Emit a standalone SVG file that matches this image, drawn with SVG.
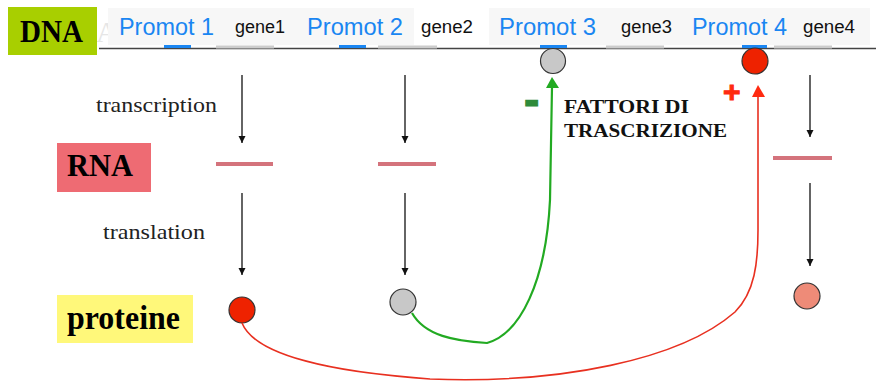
<svg xmlns="http://www.w3.org/2000/svg" width="876" height="381" viewBox="0 0 876 381">
  <style>
    .lbl { font-family: "Liberation Serif", "Times New Roman", serif; font-weight: bold; fill: #000; }
    .promot { font-family: "Liberation Sans", Arial, sans-serif; font-size: 23px; fill: #1a86f2; }
    .gene { font-family: "Liberation Sans", Arial, sans-serif; font-size: 18px; fill: #111; }
    .step { font-family: "Liberation Serif", "Times New Roman", serif; font-size: 22px; fill: #222; }
    .factor { font-family: "Liberation Serif", "Times New Roman", serif; font-weight: bold; font-size: 18px; fill: #111; }
    .pbar { fill: #1a86f2; }
    .gbar { fill: #cccccc; }
    .rna { stroke: #d4737c; stroke-width: 4; }
    .flow { stroke: #111; stroke-width: 1.3; fill: none; marker-end: url(#head); }
    .node { stroke: #333; stroke-width: 1.2; }
  </style>
  <defs>
    <marker id="head" markerUnits="userSpaceOnUse" markerWidth="8" markerHeight="8" refX="7" refY="4" orient="auto">
      <path d="M0,0.5 L7,4 L0,7.5 z" fill="#111"/>
    </marker>
  </defs>

  <rect width="876" height="381" fill="#ffffff"/>

  <!-- DNA strand header -->
  <g id="dna-label">
    <text x="96" y="42" font-family="Liberation Serif, serif" font-size="30" fill="#e6e6e6">A</text>
    <rect x="8" y="7" width="89" height="48" fill="#a8cf00"/>
    <text x="20" y="42" class="lbl" font-size="31" textLength="63" lengthAdjust="spacingAndGlyphs">DNA</text>
  </g>

  <g id="dna-strand">
    <rect x="108" y="8" width="306" height="37" fill="#f7f7f7"/>
    <rect x="489" y="8" width="381" height="37" fill="#f7f7f7"/>
    <line x1="99" y1="48.5" x2="876" y2="48.5" stroke="#444" stroke-width="1.5"/>
  </g>

  <g id="promot1">
    <text x="119" y="35" class="promot" textLength="95" lengthAdjust="spacingAndGlyphs">Promot 1</text>
    <rect x="164" y="45" width="27" height="3" class="pbar"/>
  </g>
  <g id="gene1">
    <text x="235" y="33" class="gene" textLength="50" lengthAdjust="spacingAndGlyphs">gene1</text>
    <rect x="216" y="45.5" width="58" height="3" class="gbar"/>
  </g>
  <g id="promot2">
    <text x="307" y="35" class="promot" textLength="96" lengthAdjust="spacingAndGlyphs">Promot 2</text>
    <rect x="339" y="45" width="27" height="3" class="pbar"/>
  </g>
  <g id="gene2">
    <text x="421" y="33" class="gene" textLength="52" lengthAdjust="spacingAndGlyphs">gene2</text>
    <rect x="378" y="45.5" width="59" height="3" class="gbar"/>
  </g>
  <g id="promot3">
    <text x="499" y="35" class="promot" textLength="97" lengthAdjust="spacingAndGlyphs">Promot 3</text>
    <rect x="540" y="45" width="27" height="3" class="pbar"/>
  </g>
  <g id="gene3">
    <text x="621" y="33" class="gene" textLength="51" lengthAdjust="spacingAndGlyphs">gene3</text>
    <rect x="606" y="45.5" width="58" height="3" class="gbar"/>
  </g>
  <g id="promot4">
    <text x="692" y="35" class="promot" textLength="95" lengthAdjust="spacingAndGlyphs">Promot 4</text>
    <rect x="742" y="45" width="25" height="3" class="pbar"/>
  </g>
  <g id="gene4">
    <text x="803" y="33" class="gene" textLength="52" lengthAdjust="spacingAndGlyphs">gene4</text>
    <rect x="774" y="45.5" width="58" height="3" class="gbar"/>
  </g>

  <!-- factors bound to promoters -->
  <g id="repressor-bound">
    <circle cx="553" cy="61" r="12.5" fill="#c8c8c8" class="node"/>
  </g>
  <g id="activator-bound">
    <circle cx="755" cy="61" r="13" fill="#ee2200" class="node"/>
  </g>

  <!-- step labels -->
  <g id="row-labels">
    <text x="96" y="112" class="step" textLength="121" lengthAdjust="spacingAndGlyphs">transcription</text>
    <text x="103" y="239" class="step" textLength="102" lengthAdjust="spacingAndGlyphs">translation</text>
  </g>

  <g id="rna-label">
    <rect x="57" y="143" width="94" height="49" fill="#ee6b73"/>
    <text x="67" y="176" class="lbl" font-size="31" textLength="66" lengthAdjust="spacingAndGlyphs">RNA</text>
  </g>

  <g id="proteine-label">
    <rect x="57" y="295" width="136" height="48" fill="#fff87a"/>
    <text x="67" y="329" class="lbl" font-size="33" textLength="113" lengthAdjust="spacingAndGlyphs">proteine</text>
  </g>

  <g id="factor-label">
    <text x="564" y="113" class="factor" textLength="125" lengthAdjust="spacingAndGlyphs">FATTORI DI</text>
    <text x="564" y="137" class="factor" textLength="163" lengthAdjust="spacingAndGlyphs">TRASCRIZIONE</text>
    <text x="524" y="115" font-family="Liberation Sans, Arial, sans-serif" font-weight="bold" font-size="46" fill="#2e8b3a" stroke="#2e8b3a" stroke-width="1.2">-</text>
    <text x="723" y="102" font-family="Liberation Sans, Arial, sans-serif" font-weight="bold" font-size="30" fill="#ff2a10" stroke="#ff2a10" stroke-width="1">+</text>
  </g>

  <!-- transcripts -->
  <g id="rna1"><line x1="216" y1="164" x2="273" y2="164" class="rna"/></g>
  <g id="rna2"><line x1="378" y1="164" x2="436" y2="164" class="rna"/></g>
  <g id="rna4"><line x1="773" y1="158" x2="832" y2="158" class="rna"/></g>

  <!-- proteins -->
  <g id="protein1"><circle cx="242" cy="310" r="13" fill="#ee2200" class="node"/></g>
  <g id="protein2"><circle cx="403" cy="302" r="13" fill="#c8c8c8" class="node"/></g>
  <g id="protein4"><circle cx="807" cy="296" r="13" fill="#ee8b78" class="node"/></g>

  <!-- connectors -->
  <g id="connectors">
    <line x1="242" y1="75" x2="242" y2="143" class="flow"/>
    <line x1="242" y1="193" x2="242" y2="275" class="flow"/>
    <line x1="405" y1="75" x2="405" y2="143" class="flow"/>
    <line x1="405" y1="193" x2="405" y2="275" class="flow"/>
    <line x1="810" y1="75" x2="810" y2="137" class="flow"/>
    <line x1="810" y1="183" x2="810" y2="266" class="flow"/>

    <path d="M412,313 C425,336 455,341 487,343 C520,334 546,282 550,200 L552,87" fill="none" stroke="#22aa22" stroke-width="2.2"/>
    <path d="M546,88 L552,77 L559,88 z" fill="#22aa22"/>

    <path d="M242,323 C255,355 330,372 430,379 C560,384 680,360 735,312 C755,292 758,262 758,230 L758,95" fill="none" stroke="#e83020" stroke-width="1.6"/>
    <path d="M752,97 L758,85 L765,97 z" fill="#ff2a10"/>
  </g>
</svg>
